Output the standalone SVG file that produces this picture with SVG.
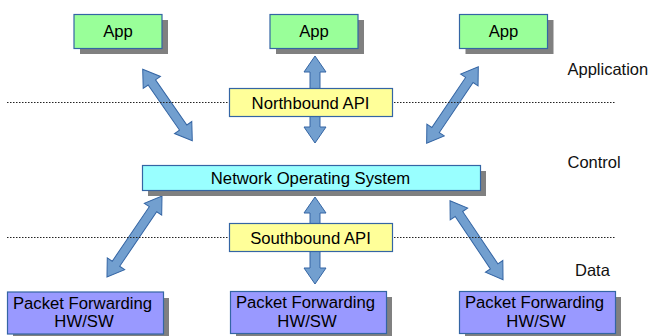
<svg xmlns="http://www.w3.org/2000/svg" width="649" height="336" viewBox="0 0 649 336">
<style>
.sh{fill:#808080}
.box{stroke:#3465a4;stroke-width:1.2}
.app{fill:#99ff99}
.nos{fill:#99ffff}
.api{fill:#ffff99}
.pf{fill:#9999ff}
.t{font-family:"Liberation Sans",Arial,sans-serif;font-size:16.7px;fill:#000;text-anchor:middle}
.lbl{font-family:"Liberation Sans",Arial,sans-serif;font-size:16.5px;fill:#111}
.arr{fill:#729fcf;stroke:#3465a4;stroke-width:1}
.dot{stroke:#222;stroke-width:1;stroke-dasharray:1.5,1.5;fill:none}
</style>
<rect width="649" height="336" fill="#fff"/>
<g id="connectors">
<polygon class="arr" transform="translate(142.7,69.3) rotate(55.2)" points="0,0 16,-10.5 16,-4.5 70.9,-4.5 70.9,-10.5 86.9,0 70.9,10.5 70.9,4.5 16,4.5 16,10.5"/>
<polygon class="arr" transform="translate(478.3,66.7) rotate(124)" points="0,0 16,-10.5 16,-4.5 76.4,-4.5 76.4,-10.5 92.4,0 76.4,10.5 76.4,4.5 16,4.5 16,10.5"/>
<polygon class="arr" transform="translate(162,196) rotate(124.2)" points="0,0 16,-10.5 16,-4.5 81.9,-4.5 81.9,-10.5 97.9,0 81.9,10.5 81.9,4.5 16,4.5 16,10.5"/>
<polygon class="arr" transform="translate(450,200.7) rotate(56.1)" points="0,0 16,-10.5 16,-4.5 79.1,-4.5 79.1,-10.5 95.1,0 79.1,10.5 79.1,4.5 16,4.5 16,10.5"/>
<polygon class="arr" transform="translate(315,56) rotate(90)" points="0,0 16,-11 16,-5 71,-5 71,-11 87,0 71,11 71,5 16,5 16,11"/>
<polygon class="arr" transform="translate(315,197) rotate(90)" points="0,0 16,-11 16,-5 71,-5 71,-11 87,0 71,11 71,5 16,5 16,11"/>
</g>
<g id="layers">
<line class="dot" x1="7" y1="102.5" x2="615" y2="102.5"/>
<line class="dot" x1="7" y1="237.5" x2="615" y2="237.5"/>
<text class="lbl" x="567.5" y="74.5">Application</text>
<text class="lbl" x="567.5" y="168">Control</text>
<text class="lbl" x="575" y="276">Data</text>
</g>
<g id="app1">
<rect class="sh" x="80" y="20" width="88" height="34"/>
<rect class="box app" x="74" y="14.5" width="88" height="34"/>
<text class="t" x="118" y="37">App</text>
</g>
<g id="app2">
<rect class="sh" x="276" y="20" width="88" height="34"/>
<rect class="box app" x="270" y="14.5" width="88" height="34"/>
<text class="t" x="314" y="37">App</text>
</g>
<g id="app3">
<rect class="sh" x="465.5" y="20" width="88" height="34"/>
<rect class="box app" x="459.5" y="14.5" width="88" height="34"/>
<text class="t" x="503.5" y="37">App</text>
</g>
<g id="northbound">
<rect class="box api" x="229.5" y="88.5" width="163" height="28"/>
<text class="t" x="310.5" y="108.5">Northbound API</text>
</g>
<g id="nos">
<rect class="sh" x="148" y="171" width="338" height="25"/>
<rect class="box nos" x="142.5" y="165.5" width="338" height="25"/>
<text class="t" x="310.5" y="183.5">Network Operating System</text>
</g>
<g id="southbound">
<rect class="box api" x="229.5" y="223.5" width="163" height="28"/>
<text class="t" x="310.5" y="243.5">Southbound API</text>
</g>
<g id="pf1">
<rect class="sh" x="13" y="298" width="156" height="42"/>
<rect class="box pf" x="7.5" y="292" width="156" height="42"/>
<text class="t" x="82.5" y="308.5">Packet Forwarding</text>
<text class="t" x="84" y="327">HW/SW</text>
</g>
<g id="pf2">
<rect class="sh" x="236" y="297" width="156" height="42"/>
<rect class="box pf" x="230.5" y="291.5" width="156" height="42"/>
<text class="t" x="305.5" y="308">Packet Forwarding</text>
<text class="t" x="307" y="326.5">HW/SW</text>
</g>
<g id="pf3">
<rect class="sh" x="465" y="297" width="156" height="42"/>
<rect class="box pf" x="459.5" y="291.5" width="156" height="42"/>
<text class="t" x="534.5" y="308">Packet Forwarding</text>
<text class="t" x="536" y="326.5">HW/SW</text>
</g>
</svg>
